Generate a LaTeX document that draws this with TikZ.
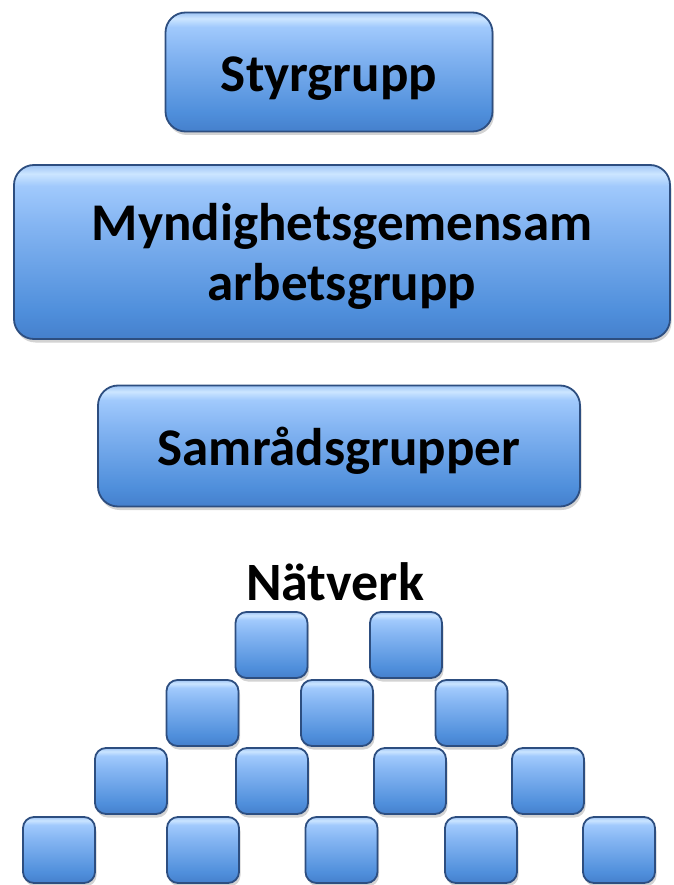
\documentclass[tikz,border=0pt]{standalone}
\usepackage{fontspec}
\setmainfont{Carlito}
\usetikzlibrary{shadows}
\pgfdeclareverticalshading{glassblue}{100bp}{%
 rgb(0bp)=(0.27,0.50,0.80);
 rgb(25bp)=(0.27,0.50,0.80);
 rgb(33bp)=(0.31,0.56,0.86);
 rgb(58bp)=(0.52,0.71,0.95);
 rgb(69bp)=(0.63,0.79,0.99);
 rgb(72.5bp)=(0.80,0.90,1.00);
 rgb(75bp)=(0.62,0.77,0.96);
 rgb(100bp)=(0.62,0.77,0.96)}
\definecolor{edgeblue}{RGB}{45,78,128}
\newcommand{\dn}[2]{\raisebox{-#1}[\height][\depth]{#2}}
\tikzset{
 glass/.style={shading=glassblue, draw=edgeblue, line width=1.8pt,
   drop shadow={shadow xshift=1.5pt, shadow yshift=-3.5pt, opacity=0.35}},
 bigbox/.style={glass, rounded corners=20pt, font=\bfseries\fontsize{53}{60}\selectfont, align=center, inner sep=0pt},
 tile/.style={glass, rounded corners=11pt, minimum width=72pt, minimum height=66pt, inner sep=0pt},
}
\begin{document}
\begin{tikzpicture}[x=1pt,y=-1pt]
\useasboundingbox (0,0) rectangle (673,885);
\node[bigbox, minimum width=327pt, minimum height=119pt] (styr) at (329,72) {\dn{7pt}{Styrgrupp}};
\node[bigbox, minimum width=656pt, minimum height=174pt] (mynd) at (342,252) {\dn{4pt}{Myndighetsgemensam}\\\dn{4pt}{arbetsgrupp}};
\node[bigbox, minimum width=482pt, minimum height=121pt] (samr) at (339,446) {\dn{5pt}{Samrådsgrupper}};
\node[font=\bfseries\fontsize{54}{60}\selectfont, inner sep=0pt] (natv) at (335,582) {Nätverk};
% row 1
\node[tile] (t11) at (271.5,645) {};
\node[tile] (t12) at (406,645) {};
% row 2
\node[tile] (t21) at (202.5,713) {};
\node[tile] (t22) at (337,713) {};
\node[tile] (t23) at (471.5,713) {};
% row 3
\node[tile] (t31) at (131,781) {};
\node[tile] (t32) at (272,781) {};
\node[tile] (t33) at (410,781) {};
\node[tile] (t34) at (548,781) {};
% row 4
\node[tile] (t41) at (59,850) {};
\node[tile] (t42) at (203,850) {};
\node[tile] (t43) at (341.5,850) {};
\node[tile] (t44) at (481,850) {};
\node[tile] (t45) at (619,850) {};
\end{tikzpicture}
\end{document}
